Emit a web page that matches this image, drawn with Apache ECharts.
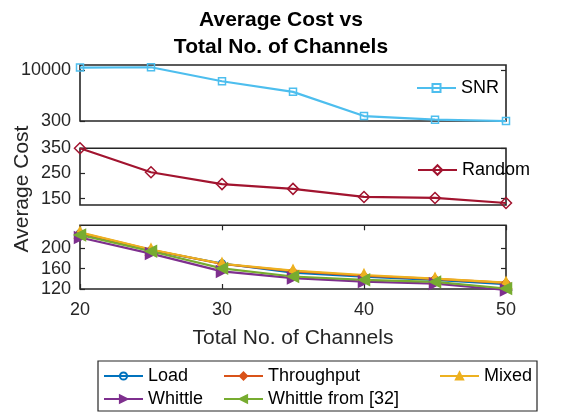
<!DOCTYPE html>
<html>
<head>
<meta charset="utf-8">
<script src="https://cdn.jsdelivr.net/npm/echarts@6/dist/echarts.min.js"></script>
<style>
  html, body { margin: 0; padding: 0; background: #fff; }
  #chart { width: 573px; height: 413px; }
</style>
</head>
<body>
<div id="chart"></div>
<script>
// Number of channels on the shared x axis
const channels = [20, 25, 30, 35, 40, 45, 50];

// Average cost per policy
const snrCost = [10500, 10570, 7900, 5870, 1250, 550, 300];
const randomCost = [350, 255, 208, 189, 157, 153, 133];
const loadCost = [229.4, 196, 170, 152, 144, 138, 129.4];
const throughputCost = [230, 197, 169, 155, 146, 140, 132];
const mixedCost = [231, 197.5, 169.5, 156, 147.5, 140.5, 132.5];
const whittleCost = [221, 189.5, 154.5, 141.5, 134.5, 130.5, 118];
const whittleRefCost = [226, 194, 160.5, 144.5, 138, 134, 121];

// Tick values shown on each panel
const xTicks = [20, 30, 40, 50];
const snrTicks = [300, 10000];
const randomTicks = [150, 250, 350];
const policyTicks = [120, 160, 200];

const FONT = 'Liberation Sans';
const INK = '#262626';

const pairs = ys => channels.map((x, i) => [x, ys[i]]);

const grids = [
  { left: 80, right: 67, top: 65, height: 56 },
  { left: 80, right: 67, top: 148.3, height: 56.7 },
  { left: 80, right: 67, top: 225.3, height: 63.7 }
].map(g => Object.assign({ show: true, borderColor: INK, borderWidth: 1.6, backgroundColor: 'transparent' }, g));

function xAxisFor(gi, withLabels, position) {
  return {
    type: 'value', gridIndex: gi, min: 20, max: 50, position: position,
    axisLine: { show: false },
    axisTick: { show: withLabels, inside: true, length: 5, lineStyle: { color: INK, width: 1.2 }, customValues: xTicks },
    axisLabel: { show: withLabels && position === 'bottom', customValues: xTicks, color: INK,
                 fontFamily: FONT, fontSize: 18, margin: 12, formatter: v => String(v) },
    splitLine: { show: false }
  };
}

function yAxisFor(gi, min, max, ticks, position) {
  return {
    type: 'value', gridIndex: gi, min: min, max: max, position: position,
    axisLine: { show: false },
    axisTick: { show: true, inside: true, length: 5, lineStyle: { color: INK, width: 1.2 }, customValues: ticks },
    axisLabel: { show: position === 'left', customValues: ticks, color: INK,
                 fontFamily: FONT, fontSize: 18, margin: 9, formatter: v => String(v) },
    splitLine: { show: false }
  };
}

const xAxes = [
  xAxisFor(0, false, 'bottom'),
  xAxisFor(1, false, 'bottom'),
  xAxisFor(2, true, 'bottom'),
  xAxisFor(2, true, 'top')
];
xAxes[2].name = 'Total No. of Channels';
xAxes[2].nameLocation = 'middle';
xAxes[2].nameGap = 39;
xAxes[2].nameTextStyle = { fontFamily: FONT, fontSize: 21, color: INK };

const yAxes = [
  yAxisFor(0, 300, 11000, snrTicks, 'left'),
  yAxisFor(0, 300, 11000, snrTicks, 'right'),
  yAxisFor(1, 125, 350, randomTicks, 'left'),
  yAxisFor(1, 125, 350, randomTicks, 'right'),
  yAxisFor(2, 120, 245, policyTicks, 'left'),
  yAxisFor(2, 120, 245, policyTicks, 'right')
];

// Open markers leave the line visible through them
function lineSeries(name, ys, color, xi, yi, symbol, size, open, extra) {
  return Object.assign({
    name: name, type: 'line', xAxisIndex: xi, yAxisIndex: yi,
    data: pairs(ys), symbol: symbol, symbolSize: size,
    lineStyle: { color: color, width: 2.2 },
    itemStyle: { color: open ? 'rgba(255,255,255,0)' : color, borderColor: color, borderWidth: 1.5 },
    emphasis: { disabled: true }, animation: false
  }, extra || {});
}

const series = [
  lineSeries('SNR', snrCost, '#4DBEEE', 0, 0, 'rect', 7, true),
  lineSeries('Random', randomCost, '#A2142F', 1, 2, 'diamond', 11, true),
  lineSeries('Load', loadCost, '#0072BD', 2, 4, 'circle', 7, true, { clip: false }),
  lineSeries('Throughput', throughputCost, '#D95319', 2, 4, 'diamond', 8, false, { clip: false }),
  lineSeries('Mixed', mixedCost, '#EDB120', 2, 4, 'triangle', 11, false, { clip: false }),
  lineSeries('Whittle', whittleCost, '#7E2F8E', 2, 4, 'triangle', 11, false, { clip: false, symbolRotate: -90 }),
  lineSeries('Whittle from [32]', whittleRefCost, '#77AC30', 2, 4, 'triangle', 11, false, { clip: false, symbolRotate: 90 })
];

const legendText = { fontFamily: FONT, fontSize: 18, color: '#000' };
function legendAt(name, left, top, iconH) {
  return { data: [name], left: left, top: top, itemWidth: 39, itemHeight: iconH || 9, itemGap: 0,
           textStyle: legendText, selectedMode: false, padding: 0 };
}

const option = {
  backgroundColor: '#fff',
  animation: false,
  title: {
    text: 'Average Cost vs\nTotal No. of Channels',
    left: 276, top: 2, textAlign: 'center',
    textStyle: { fontFamily: FONT, fontSize: 21, fontWeight: 'bold', color: '#000', lineHeight: 27 }
  },
  grid: grids,
  xAxis: xAxes,
  yAxis: yAxes,
  series: series,
  legend: [
    legendAt('SNR', 416, 79, 10),
    legendAt('Random', 417, 161, 12),
    legendAt('Load', 103, 367),
    legendAt('Throughput', 223, 367),
    legendAt('Mixed', 439, 367),
    legendAt('Whittle', 103, 390),
    legendAt('Whittle from [32]', 223, 390)
  ],
  graphic: [
    { type: 'rect', shape: { x: 98, y: 361, width: 439, height: 50 },
      style: { fill: 'none', stroke: INK, lineWidth: 1.2 }, z: 10 },
    { type: 'text', x: 22, y: 189, rotation: Math.PI / 2,
      style: { text: 'Average Cost', fontFamily: FONT, fontSize: 21, fill: INK,
               textAlign: 'center', textVerticalAlign: 'middle' } }
  ]
};

const chart = echarts.init(document.getElementById('chart'), null, { renderer: 'canvas' });
chart.setOption(option);
</script>
</body>
</html>
